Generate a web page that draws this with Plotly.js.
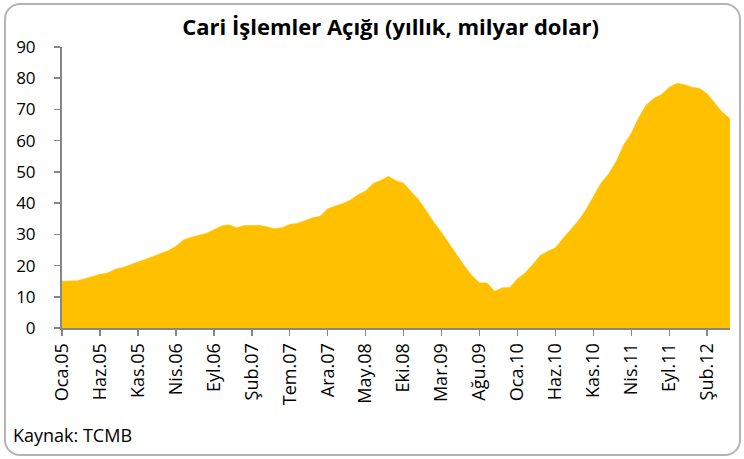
<!DOCTYPE html>
<html>
<head>
<meta charset="utf-8">
<script src="https://cdn.plot.ly/plotly-3.0.1.min.js"></script>
<style>
html,body{margin:0;padding:0;background:#fff;}
#wrap{position:relative;width:744px;height:459px;}
#chart{width:744px;height:459px;}
#frame{position:absolute;left:4px;top:3px;width:733px;height:449px;border:2px solid #b4b4b4;border-radius:16px;pointer-events:none;}
</style>
</head>
<body>
<div id="wrap"><div id="chart"></div><div id="frame"></div></div>
<script>
const months = [
 "Oca.05","Şub.05","Mar.05","Nis.05","May.05","Haz.05","Tem.05","Ağu.05","Eyl.05","Eki.05","Kas.05","Ara.05",
 "Oca.06","Şub.06","Mar.06","Nis.06","May.06","Haz.06","Tem.06","Ağu.06","Eyl.06","Eki.06","Kas.06","Ara.06",
 "Oca.07","Şub.07","Mar.07","Nis.07","May.07","Haz.07","Tem.07","Ağu.07","Eyl.07","Eki.07","Kas.07","Ara.07",
 "Oca.08","Şub.08","Mar.08","Nis.08","May.08","Haz.08","Tem.08","Ağu.08","Eyl.08","Eki.08","Kas.08","Ara.08",
 "Oca.09","Şub.09","Mar.09","Nis.09","May.09","Haz.09","Tem.09","Ağu.09","Eyl.09","Eki.09","Kas.09","Ara.09",
 "Oca.10","Şub.10","Mar.10","Nis.10","May.10","Haz.10","Tem.10","Ağu.10","Eyl.10","Eki.10","Kas.10","Ara.10",
 "Oca.11","Şub.11","Mar.11","Nis.11","May.11","Haz.11","Tem.11","Ağu.11","Eyl.11","Eki.11","Kas.11","Ara.11",
 "Oca.12","Şub.12","Mar.12","Nis.12","May.12"
];
const deficit = [
 15.0,15.0,15.1,15.8,16.6,17.2,17.6,18.8,19.4,20.2,21.0,22.0,
 22.9,23.8,24.8,26.2,28.2,29.1,29.8,30.3,31.5,32.7,33.1,32.1,
 32.8,32.9,32.9,32.4,31.8,32.1,33.2,33.5,34.3,35.3,35.8,38.2,
 39.1,39.9,41.0,42.7,43.9,46.3,47.3,48.6,47.2,46.4,43.6,41.1,
 37.5,33.8,30.6,26.9,23.6,19.9,16.8,14.5,14.4,11.8,12.9,13.0,
 15.8,17.6,20.3,23.2,24.6,25.7,28.7,31.4,34.3,37.8,42.1,46.4,
 49.3,53.3,58.7,62.4,67.5,71.6,73.6,74.8,77.1,78.4,77.9,77.1,
 76.7,75.0,72.0,69.1,67.0
];
const tickLabels = ["Oca.05","Haz.05","Kas.05","Nis.06","Eyl.06","Şub.07","Tem.07","Ara.07","May.08","Eki.08","Mar.09","Ağu.09","Oca.10","Haz.10","Kas.10","Nis.11","Eyl.11","Şub.12"];
const yTicks = [0,10,20,30,40,50,60,70,80,90];

const font = "Open Sans, Noto Sans, sans-serif";
const trace = {
  x: months, y: deficit, type: "scatter", mode: "lines",
  fill: "tozeroy", fillcolor: "#FFC000",
  line: {color: "#FFC000", width: 0.5}, hoverinfo: "x+y"
};
const layout = {
  width: 744, height: 459,
  margin: {l: 62, r: 14, t: 47, b: 131},
  paper_bgcolor: "#fff", plot_bgcolor: "#fff",
  showlegend: false,
  font: {family: font, size: 16, color: "#000"},
  title: {text: "<b>Cari İşlemler Açığı (yıllık, milyar dolar)</b>", x: 0.525, xanchor: "center", y: 0.94, yanchor: "middle",
          font: {family: font, size: 22, color: "#000"}},
  xaxis: {
    type: "category", range: [0, months.length - 1],
    tickmode: "array", tickvals: tickLabels, ticktext: tickLabels,
    tickangle: -90, ticks: "outside", ticklen: 6, tickwidth: 1.5, tickcolor: "#868686",
    showline: true, linecolor: "#868686", linewidth: 2,
    showgrid: false, zeroline: false,
    tickfont: {family: font, size: 18, color: "#000"}
  },
  yaxis: {
    range: [0, 90], tickmode: "array", tickvals: yTicks,
    ticks: "outside", ticklen: 6, tickwidth: 1.5, tickcolor: "#868686",
    showline: true, linecolor: "#868686", linewidth: 2,
    showgrid: false, zeroline: false, ticklabelstandoff: 15,
    tickfont: {family: font, size: 17, color: "#000"}
  },
  annotations: [{
    text: "Kaynak: TCMB", xref: "paper", yref: "paper",
    x: -0.076, y: -0.38, xanchor: "left", yanchor: "middle", showarrow: false,
    font: {family: font, size: 18, color: "#000"}
  }]
};
Plotly.newPlot("chart", [trace], layout, {displayModeBar: false, staticPlot: true});
</script>
</body>
</html>
